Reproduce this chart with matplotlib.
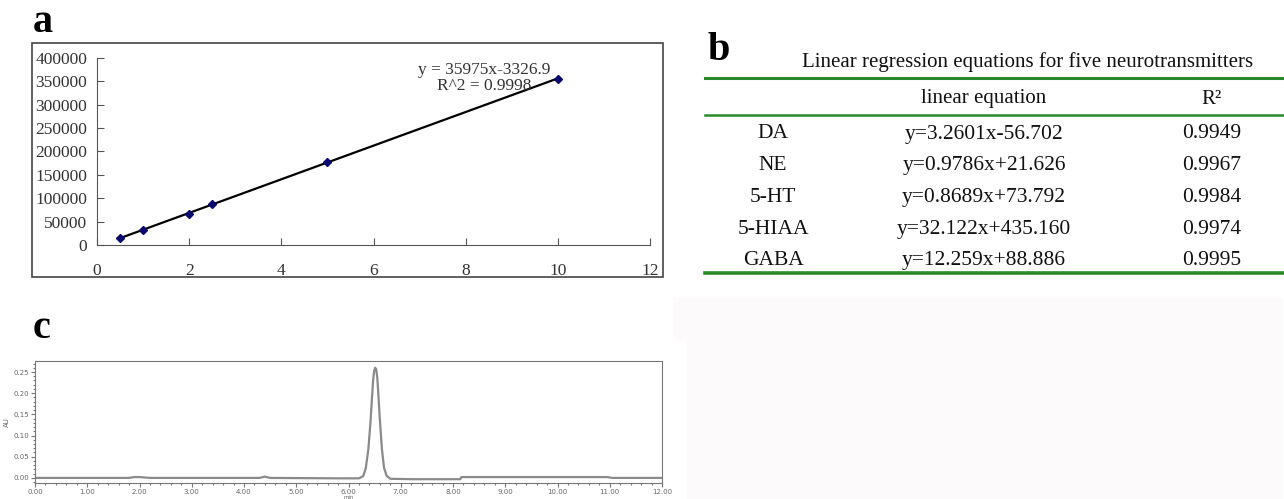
import matplotlib
matplotlib.use("Agg")
import matplotlib.pyplot as plt
from matplotlib.patches import Rectangle
from matplotlib.ticker import MultipleLocator, FormatStrFormatter
import numpy as np

# panel a: calibration points
conc = [0.5, 1, 2, 2.5, 5, 10]
area = [14500, 31500, 67000, 88000, 177000, 355000]
fit_slope = 35975
fit_intercept = -3326.9
fit_r2 = 0.9998

# panel b: regression table
compounds = ["DA", "NE", "5-HT", "5-HIAA", "GABA"]
equations = ["y=3.2601x-56.702", "y=0.9786x+21.626", "y=0.8689x+73.792",
             "y=32.122x+435.160", "y=12.259x+88.886"]
r2_values = ["0.9949", "0.9967", "0.9984", "0.9974", "0.9995"]

# panel c: chromatogram
chrom_t = [0.00, 1.80, 1.90, 2.00, 2.10, 2.20, 4.30, 4.40, 4.50, 5.80, 6.20,
           6.28, 6.33, 6.38, 6.42, 6.45, 6.47, 6.49, 6.51, 6.53, 6.55, 6.57,
           6.60, 6.64, 6.68, 6.73, 6.80, 7.20, 8.14, 8.16, 10.95, 11.05, 12.00]
chrom_au = [0.000, 0.000, 0.002, 0.002, 0.001, 0.000, 0.000, 0.003, 0.000,
            -0.001, -0.001, 0.004, 0.022, 0.068, 0.130, 0.190, 0.228, 0.252,
            0.260, 0.256, 0.238, 0.200, 0.138, 0.068, 0.024, 0.005, -0.002,
            -0.003, -0.003, 0.002, 0.002, 0.000, 0.000]

W, H = 1284, 499
SERIF = "Liberation Serif"


def box(x0, y0, x1, y1):
    return [x0 / W, 1 - y1 / H, (x1 - x0) / W, (y1 - y0) / H]


fig = plt.figure(figsize=(W / 100, H / 100), dpi=100)

# faint grey block bottom right
shade = "#fcfafb"
fig.patches.append(Rectangle((674 / W, 1 - 340 / H), (1282 - 674) / W, 42 / H,
                             transform=fig.transFigure, color=shade, zorder=0))
fig.patches.append(Rectangle((687 / W, 0), (1282 - 687) / W, 1 - 340 / H,
                             transform=fig.transFigure, color=shade, zorder=0))

# ---------- a ----------
fig.text(33 / W, 1 - 32 / H, "a", fontsize=29, fontweight="bold",
         family=SERIF, va="baseline")
fig.patches.append(Rectangle((32 / W, 1 - 277 / H), 631 / W, 234 / H,
                             transform=fig.transFigure, fill=False,
                             edgecolor="#444444", lw=1.2))
ax = fig.add_axes(box(97, 58, 650, 245))
ax.set_xlim(0, 12)
ax.set_ylim(0, 400000)
ax.set_xticks(range(0, 13, 2))
ax.set_yticks(range(0, 400001, 50000))
ax.yaxis.set_major_formatter(FormatStrFormatter("%d"))
for s in ["top", "right"]:
    ax.spines[s].set_visible(False)
for s in ["left", "bottom"]:
    ax.spines[s].set_color("#555555")
ax.tick_params(direction="in", length=5, color="#555555", labelsize=12.5,
               labelcolor="#333333")
ax.tick_params(axis="y", pad=7)
ax.tick_params(axis="x", pad=13)
for lab in ax.get_xticklabels() + ax.get_yticklabels():
    lab.set_family(SERIF)
xs = np.array([conc[0], conc[-1]])
ax.plot(xs, fit_slope * xs + fit_intercept, color="black", lw=1.6)
ax.plot(conc, area, ls="none", marker="D", ms=4, color="#0a0a6e")
ax.text(8.4, 357000, f"y = {fit_slope}x{fit_intercept}\nR^2 = {fit_r2}",
        ha="center", va="center", fontsize=12.5, family=SERIF,
        color="#333333", linespacing=1.05)

# ---------- b ----------
fig.text(708 / W, 1 - 60 / H, "b", fontsize=29, fontweight="bold",
         family=SERIF, va="baseline")
tb = fig.add_axes(box(690, 0, 1284, 290))
tb.set_xlim(690, 1284)
tb.set_ylim(290, 0)
tb.axis("off")
green = "#2a8a2a"
tb.plot([705, 1284], [78, 78], color=green, lw=2.2)
tb.plot([705, 1284], [115, 115], color=green, lw=1.8)
tb.plot([705, 1284], [273, 273], color=green, lw=2.6)
tb.text(1028, 62, "Linear regression equations for five neurotransmitters",
        ha="center", va="center", fontsize=15, family=SERIF, color="#111111")
col_x = [773, 984, 1212]
tb.text(col_x[1], 99, "linear equation", ha="center", va="center",
        fontsize=15, family=SERIF, color="#111111")
tb.text(col_x[2], 99, "R²", ha="center", va="center",
        fontsize=15, family=SERIF, color="#111111")
for i, (c, e, r) in enumerate(zip(compounds, equations, r2_values)):
    y = 134 + i * 31.7
    tb.text(col_x[0], y, c, ha="center", va="center", fontsize=15.5,
            family=SERIF, color="#111111")
    tb.text(col_x[1], y, e, ha="center", va="center", fontsize=15.5,
            family=SERIF, color="#111111")
    tb.text(col_x[2], y, r, ha="center", va="center", fontsize=15.5,
            family=SERIF, color="#111111")

# ---------- c ----------
fig.text(33 / W, 1 - 338 / H, "c", fontsize=29, fontweight="bold",
         family=SERIF, va="baseline")
cx = fig.add_axes(box(35, 361, 662, 483))
cx.set_xlim(0, 12)
cx.set_ylim(-0.012, 0.276)
cx.plot(chrom_t, chrom_au, color="#8a8a8a", lw=1.6)
cx.xaxis.set_major_locator(MultipleLocator(1))
cx.xaxis.set_minor_locator(MultipleLocator(0.2))
cx.yaxis.set_major_locator(MultipleLocator(0.05))
cx.yaxis.set_minor_locator(MultipleLocator(0.01))
cx.xaxis.set_major_formatter(FormatStrFormatter("%.2f"))
cx.yaxis.set_major_formatter(FormatStrFormatter("%.2f"))
for s in cx.spines.values():
    s.set_color("#777777")
cx.tick_params(which="major", direction="out", length=3, width=0.8,
               color="#777777", labelsize=5, labelcolor="#666666", pad=1.5)
cx.tick_params(which="minor", direction="out", length=1.5, width=0.8,
               color="#777777")
cx.set_ylabel("AU", fontsize=5, color="#666666", labelpad=2)
cx.set_xlabel("min", fontsize=4, color="#666666", labelpad=0)

fig.savefig("out.png", dpi=100)
